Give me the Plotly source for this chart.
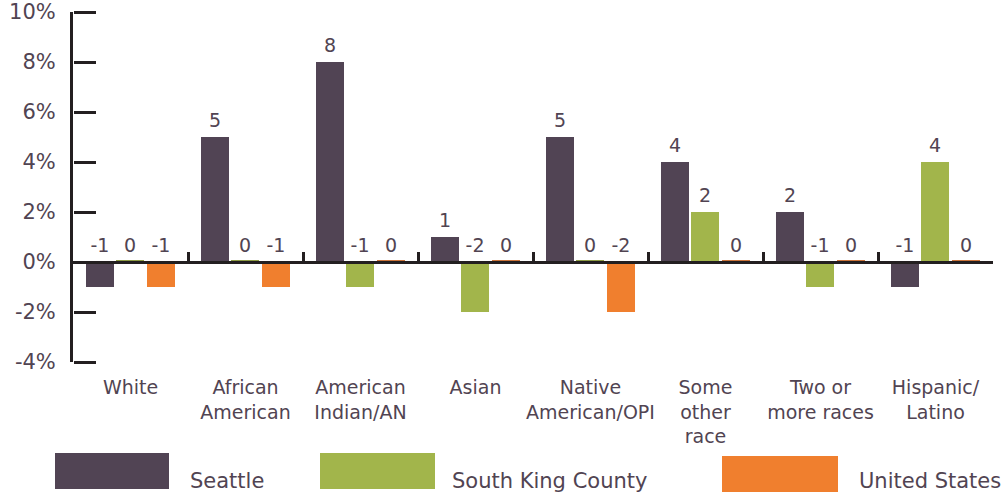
import plotly.graph_objects as go

# Change in population share by race/ethnicity (percentage points)
categories = ["White", "African<br>American", "American<br>Indian/AN", "Asian",
              "Native<br>American/OPI", "Some<br>other<br>race", "Two or<br>more races",
              "Hispanic/<br>Latino"]
seattle = [-1, 5, 8, 1, 5, 4, 2, -1]
south_king_county = [0, 0, -1, -2, 0, 2, -1, 4]
united_states = [-1, -1, 0, 0, -2, 0, 0, 0]

series_names = ["Seattle", "South King County", "United States"]
y_ticks = [-4, -2, 0, 2, 4, 6, 8, 10]
y_tick_labels = [f"{v}%" for v in y_ticks]

colors = ["#514454", "#a2b54b", "#f07f2e"]
zero_colors = ["#514454", "#8d9a45", "#c9733a"]
text_color = "#514452"
axis_color = "#231f20"
FONT = "Verdana, DejaVu Sans, sans-serif"

BAR_W = 0.2435
offsets = [-0.387, -0.126, 0.1435]

W, H = 1006, 495
L, R, T, B = 73, 13, 12, 133
plot_w = W - L - R
plot_h = H - T - B

x_idx = list(range(len(categories)))
fig = go.Figure()

for name, vals, off, col, zc in zip(series_names,
                                    [seattle, south_king_county, united_states],
                                    offsets, colors, zero_colors):
    fig.add_trace(go.Bar(
        x=x_idx, y=vals, name=name, width=BAR_W, offset=off,
        marker=dict(color=col,
                    line=dict(color=zc, width=[4 if v == 0 else 0 for v in vals])),
        showlegend=False, hoverinfo="skip",
    ))
    # value labels sit above the bar top, or above the zero line for non-positive values
    fig.add_trace(go.Scatter(
        x=[i + off + BAR_W / 2 for i in x_idx],
        y=[max(v, 0) for v in vals],
        mode="markers+text", text=[str(v) for v in vals], textposition="top center",
        marker=dict(size=7, opacity=0),
        textfont=dict(family=FONT, size=19, color=text_color),
        showlegend=False, hoverinfo="skip", cliponaxis=False,
    ))

y_range = [y_ticks[0], y_ticks[-1]]
fig.update_layout(
    width=W, height=H,
    margin=dict(l=L, r=R, t=T, b=B, autoexpand=False),
    paper_bgcolor="white", plot_bgcolor="white",
    barmode="overlay",
    xaxis=dict(
        range=[-0.5, len(categories) - 0.5], automargin=False,
        tickvals=x_idx, ticktext=categories,
        showgrid=False, zeroline=False, showline=False, ticks="",
        tickfont=dict(family=FONT, size=19, color=text_color),
        ticklabelstandoff=12,
    ),
    # zero line with boundary ticks between category groups
    xaxis2=dict(
        overlaying="x", matches="x", anchor="free", side="bottom", automargin=False,
        position=(0 - y_ticks[0]) / (y_ticks[-1] - y_ticks[0]),
        range=[-0.5, len(categories) - 0.5],
        tickvals=[i - 0.5 for i in range(len(categories) + 1)],
        showticklabels=False, ticks="inside", ticklen=9, tickwidth=3, tickcolor=axis_color,
        showline=True, linewidth=3, linecolor=axis_color,
        showgrid=False, zeroline=False,
    ),
    yaxis=dict(
        range=y_range, automargin=False,
        tickvals=y_ticks, ticktext=y_tick_labels, ticks="",
        showline=True, linewidth=3, linecolor=axis_color,
        showgrid=False, zeroline=False,
        tickfont=dict(family=FONT, size=21, color=text_color),
        ticklabelstandoff=10,
    ),
    # tick marks pointing into the plot from the left axis
    yaxis2=dict(
        overlaying="y", matches="y", anchor="free", side="right", position=0,
        automargin=False, range=y_range,
        tickvals=y_ticks, showticklabels=False,
        ticks="outside", ticklen=22, tickwidth=3, tickcolor=axis_color,
        showline=False, showgrid=False, zeroline=False,
    ),
)

# invisible traces that activate the helper axes
fig.add_trace(go.Scatter(x=[0], y=[0], xaxis="x2", mode="markers",
                         marker=dict(opacity=0), showlegend=False, hoverinfo="skip"))
fig.add_trace(go.Scatter(x=[0], y=[0], yaxis="y2", mode="markers",
                         marker=dict(opacity=0), showlegend=False, hoverinfo="skip"))

# Legend: large swatches with labels beneath the chart
def px_x(px):
    return (px - L) / plot_w

def px_y(py):
    return (H - B - py) / plot_h

legend_items = [
    (55, 169, 453, 489, 188),
    (320, 435, 453, 489, 450),
    (722, 838, 456, 492, 857),
]
for (x0, x1, y0, y1, tx), name, col in zip(legend_items, series_names, colors):
    fig.add_shape(type="rect", xref="paper", yref="paper",
                  x0=px_x(x0), x1=px_x(x1), y0=px_y(y1), y1=px_y(y0),
                  fillcolor=col, line=dict(width=0), layer="above")
    fig.add_annotation(xref="paper", yref="paper", x=px_x(tx), y=px_y(481),
                       xanchor="left", yanchor="middle", showarrow=False,
                       text=name, font=dict(family=FONT, size=21, color=text_color))

fig.write_html("out.html")
